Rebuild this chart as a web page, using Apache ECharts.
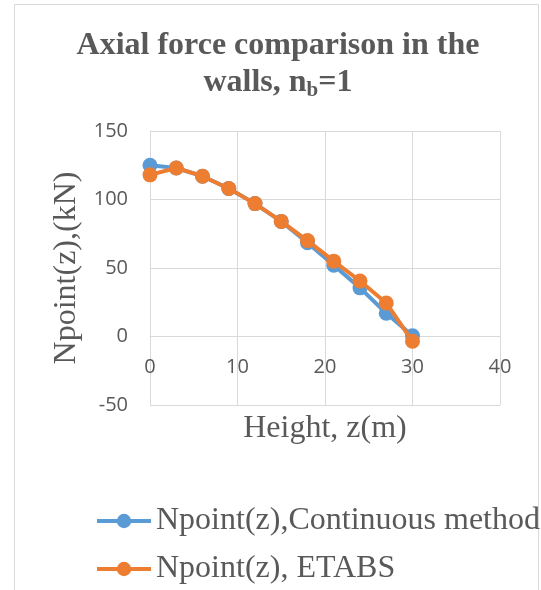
<!DOCTYPE html>
<html>
<head>
<meta charset="utf-8">
<script src="https://cdn.jsdelivr.net/npm/echarts@6/dist/echarts.min.js"></script>
<style>
html,body{margin:0;padding:0;background:#fff;}
#chart{width:541px;height:590px;}
</style>
</head>
<body>
<div id="chart"></div>
<script>
var heights = [0, 3, 6, 9, 12, 15, 18, 21, 24, 27, 30];
var continuousMethod = [125, 123, 117, 108, 97, 84, 68.5, 52, 35.5, 17, 0.5];
var etabs = [118, 123, 117, 108, 97, 84, 70, 55, 40.5, 24.5, -3.5];
var seriesNames = ['Npoint(z),Continuous method', 'Npoint(z), ETABS'];

function pairs(xs, ys) { return xs.map(function (x, i) { return [x, ys[i]]; }); }

var chart = echarts.init(document.getElementById('chart'));
var textColor = '#595959';
var gridColor = '#d9d9d9';
var legendText = { fontFamily: 'Liberation Serif', fontSize: 32, color: textColor };
chart.setOption({
  animation: false,
  backgroundColor: '#fff',
  graphic: [{
    type: 'rect', silent: true,
    shape: { x: 14.5, y: 4.5, width: 524, height: 620 },
    style: { fill: null, stroke: gridColor, lineWidth: 1 }
  }],
  title: {
    text: '{m|Axial force comparison in the}\n{m|walls, n}{sub|b}{m|=1}',
    left: 273, top: 22, textAlign: 'center',
    textStyle: {
      rich: {
        m: { fontFamily: 'Liberation Serif', fontWeight: 'bold', fontSize: 32, color: textColor, lineHeight: 37 },
        sub: { fontFamily: 'Liberation Serif', fontWeight: 'bold', fontSize: 21, color: textColor, lineHeight: 17, verticalAlign: 'bottom' }
      }
    }
  },
  legend: [
    { left: 95, top: 505, padding: 0, itemWidth: 54, itemHeight: 18, lineStyle: { width: 4 }, textStyle: legendText, data: [seriesNames[0]] },
    { left: 95, top: 553, padding: 0, itemWidth: 54, itemHeight: 18, lineStyle: { width: 4 }, textStyle: legendText, data: [seriesNames[1]] }
  ],
  grid: { left: 150, right: 41, top: 131, bottom: 185 },
  xAxis: {
    type: 'value', min: 0, max: 40, interval: 10,
    offset: -68.5,
    name: 'Height, z(m)', nameLocation: 'middle', nameGap: 76,
    nameTextStyle: { fontFamily: 'Liberation Serif', fontSize: 32, color: textColor },
    axisLine: { show: true, onZero: false, lineStyle: { color: gridColor, width: 1 } },
    axisTick: { show: false },
    axisLabel: { fontFamily: 'Open Sans', fontSize: 20, color: textColor, margin: 21 },
    splitLine: { show: true, lineStyle: { color: gridColor, width: 1 } }
  },
  yAxis: {
    type: 'value', min: -50, max: 150, interval: 50,
    name: 'Npoint(z),(kN)', nameLocation: 'middle', nameGap: 66,
    nameTextStyle: { fontFamily: 'Liberation Serif', fontSize: 32, color: textColor },
    axisLine: { show: true, lineStyle: { color: gridColor, width: 1 } },
    axisTick: { show: false },
    axisLabel: { fontFamily: 'Open Sans', fontSize: 20, color: textColor, margin: 22 },
    splitLine: { show: true, lineStyle: { color: gridColor, width: 1 } }
  },
  series: [
    {
      name: seriesNames[0], type: 'line', data: pairs(heights, continuousMethod),
      symbol: 'circle', symbolSize: 15, color: '#5B9BD5',
      lineStyle: { width: 4, color: '#5B9BD5' }, itemStyle: { color: '#5B9BD5' }, z: 2
    },
    {
      name: seriesNames[1], type: 'line', data: pairs(heights, etabs),
      symbol: 'circle', symbolSize: 15, color: '#ED7D31',
      lineStyle: { width: 4, color: '#ED7D31' }, itemStyle: { color: '#ED7D31' }, z: 3
    }
  ]
});
</script>
</body>
</html>
